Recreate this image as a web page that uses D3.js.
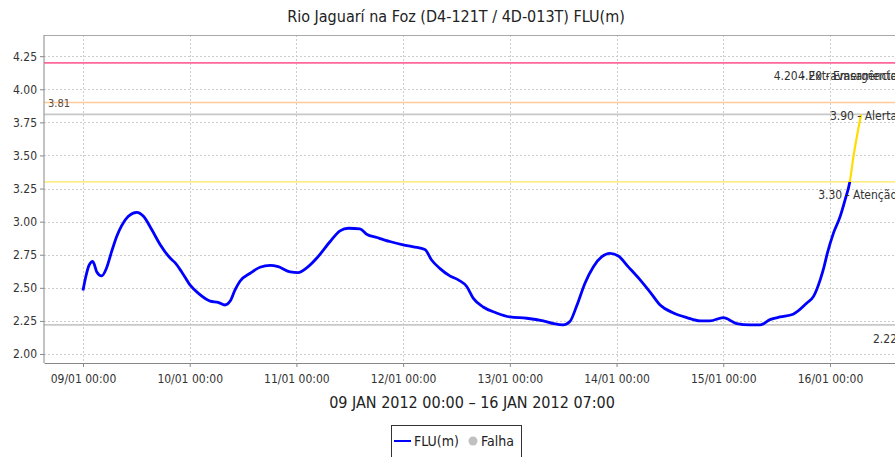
<!DOCTYPE html>
<html>
<head>
<meta charset="utf-8">
<script src="https://cdn.jsdelivr.net/npm/d3@7"></script>
<style>
  html, body { margin: 0; padding: 0; background: #fff; }
  svg { display: block; font-family: "DejaVu Sans Condensed", "DejaVu Sans", sans-serif; }
</style>
</head>
<body>
<svg id="chart" width="895" height="457"></svg>
<script>
// ---- data ----
const title = "Rio Jaguarí na Foz (D4-121T / 4D-013T) FLU(m)";
const subtitle = "09 JAN 2012 00:00 – 16 JAN 2012 07:00";
const startTime = new Date(2012, 0, 9, 0, 0);
// hours since 09 JAN 2012 00:00
const hours = [0, 0.6, 1.35, 2.2, 3.1, 4.2, 5.3, 6.45, 7.6, 8.7, 10.2, 12.1, 13.6, 15.45, 17.3, 19.6, 20.7, 22.2, 24.1, 25.9, 28.6, 30.4, 31.9, 33.1, 34.2, 35.3, 37.6, 39.8, 42.1, 43.9, 46.6, 48.4, 50.3, 52.6, 55.6, 57.8, 59.7, 62.3, 63.8, 66.1, 69.0, 72.0, 74.3, 76.9, 78.4, 80.3, 82.5, 84.4, 86.3, 87.8, 90.0, 93.0, 96.0, 99.8, 103.5, 105.8, 108.0, 109.5, 111.0, 112.9, 114.8, 116.7, 118.5, 120.4, 122.6, 125.3, 127.5, 129.8, 132.8, 135.8, 138.8, 141.0, 144.0, 147.0, 150.0, 152.3, 154.5, 156.8, 159.7, 162.8, 164.3, 165.8, 166.6, 167.4, 168.8, 170.3, 171.4, 172.4, 173.3, 174.2, 175.0];
const levels = [2.48, 2.58, 2.67, 2.70, 2.62, 2.59, 2.65, 2.775, 2.89, 2.97, 3.04, 3.07, 3.04, 2.94, 2.83, 2.725, 2.69, 2.62, 2.52, 2.46, 2.40, 2.39, 2.37, 2.40, 2.485, 2.55, 2.61, 2.655, 2.67, 2.66, 2.62, 2.615, 2.65, 2.725, 2.85, 2.93, 2.95, 2.945, 2.905, 2.88, 2.85, 2.825, 2.81, 2.79, 2.71, 2.645, 2.59, 2.56, 2.51, 2.42, 2.355, 2.31, 2.28, 2.27, 2.25, 2.23, 2.22, 2.245, 2.36, 2.535, 2.66, 2.735, 2.76, 2.74, 2.66, 2.56, 2.47, 2.37, 2.31, 2.275, 2.25, 2.25, 2.275, 2.23, 2.22, 2.22, 2.26, 2.28, 2.30, 2.385, 2.435, 2.56, 2.65, 2.76, 2.915, 3.04, 3.165, 3.29, 3.495, 3.67, 3.81];
const thresholdValues = [4.20, 4.20, 3.90, 3.30];
const thresholdLabels = ["4.20 - Extravasamento", "4.20 - Emergência", "3.90 - Alerta", "3.30 - Atenção"];
const thresholdColors = ["#ff6699", "#ff6699", "#ffcc99", "#ffee88"];
const maxValue = 3.81, minValue = 2.22;
const yTicks = [2.00, 2.25, 2.50, 2.75, 3.00, 3.25, 3.50, 3.75, 4.00, 4.25];
const dayTicks = [9, 10, 11, 12, 13, 14, 15, 16];
const legendItems = ["FLU(m)", "Falha"];

// ---- layout ----
const svg = d3.select("#chart");
const pLeft = 44, pRight = 900, pTop = 35, pBottom = 363;

const series = hours.map((h, i) => ({ t: new Date(startTime.getTime() + h * 3600e3), v: levels[i] }));

const x = d3.scaleTime()
  .domain([new Date(startTime.getTime() - 8.77 * 3600e3), new Date(startTime.getTime() + 183.75 * 3600e3)])
  .range([pLeft, pRight]);
const y = d3.scaleLinear().domain([1.932, 4.41]).range([pBottom, pTop]);

// grid
const grid = svg.append("g");
grid.selectAll(".gy").data(yTicks).join("line")
  .attr("x1", pLeft).attr("x2", pRight)
  .attr("y1", d => Math.round(y(d)) + 0.5).attr("y2", d => Math.round(y(d)) + 0.5)
  .attr("stroke", "#cccccc").attr("stroke-dasharray", "2,2");
const tickDates = dayTicks.map(d => new Date(2012, 0, d, 0, 0));
grid.selectAll(".gx").data(tickDates).join("line")
  .attr("x1", d => Math.round(x(d)) + 0.5).attr("x2", d => Math.round(x(d)) + 0.5)
  .attr("y1", pTop).attr("y2", pBottom)
  .attr("stroke", "#cccccc").attr("stroke-dasharray", "2,2");

// top border
svg.append("line").attr("x1", pLeft).attr("x2", pRight).attr("y1", pTop + 0.5).attr("y2", pTop + 0.5)
  .attr("stroke", "#aaaaaa");

// threshold lines
const thr = svg.append("g");
thresholdValues.forEach((v, i) => {
  thr.append("line").attr("x1", pLeft).attr("x2", pRight)
    .attr("y1", y(v)).attr("y2", y(v))
    .attr("stroke", thresholdColors[i]).attr("stroke-width", 1.6);
});
// max / min lines
[maxValue, minValue].forEach(v => {
  svg.append("line").attr("x1", pLeft).attr("x2", pRight)
    .attr("y1", y(v)).attr("y2", y(v))
    .attr("stroke", "#c8c8c8").attr("stroke-width", 1.6);
});

// series
const line = d3.line().x(d => x(d.t)).y(d => y(d.v)).curve(d3.curveMonotoneX);
svg.append("clipPath").attr("id", "below").append("rect")
  .attr("x", pLeft).attr("y", y(3.30)).attr("width", pRight - pLeft).attr("height", pBottom - y(3.30));
svg.append("clipPath").attr("id", "above").append("rect")
  .attr("x", pLeft).attr("y", pTop).attr("width", pRight - pLeft).attr("height", y(3.30) - pTop);
svg.append("path").datum(series).attr("d", line).attr("fill", "none")
  .attr("stroke", "#0000ff").attr("stroke-width", 2.8).attr("clip-path", "url(#below)");
svg.append("path").datum(series).attr("d", line).attr("fill", "none")
  .attr("stroke", "#ffdd00").attr("stroke-width", 2.2).attr("clip-path", "url(#above)");

// threshold labels
const labelX = 897;
thresholdValues.forEach((v, i) => {
  svg.append("text").attr("x", labelX).attr("y", y(v) + 17)
    .attr("text-anchor", "end").attr("font-size", 12).attr("fill", "#333")
    .text(thresholdLabels[i]);
});
svg.append("text").attr("x", labelX).attr("y", y(minValue) + 18)
  .attr("text-anchor", "end").attr("font-size", 12).attr("fill", "#333").text(minValue.toFixed(2));
svg.append("text").attr("x", 48).attr("y", y(maxValue) - 7.5)
  .attr("font-size", 11).attr("fill", "#5a4a3a").text(maxValue.toFixed(2));

// axes
const yAxis = d3.axisLeft(y).tickValues(yTicks).tickFormat(d3.format(".2f")).tickSize(4).tickSizeOuter(0);
const gy = svg.append("g").attr("transform", `translate(${pLeft},0)`).call(yAxis);
gy.select(".domain").attr("stroke", "#888").attr("d", `M0.5,${pTop}V${pBottom}`).attr("transform", "translate(-0.5,0)");
gy.selectAll(".tick line").attr("stroke", "#888");
gy.selectAll("text").attr("font-size", 12).attr("fill", "#333");
gy.attr("font-family", null);

const xAxis = d3.axisBottom(x).tickValues(tickDates).tickFormat(d3.timeFormat("%d/%m %H:%M")).tickSize(4).tickSizeOuter(0);
const gx = svg.append("g").attr("transform", `translate(0,${pBottom})`).call(xAxis);
gx.select(".domain").attr("stroke", "#888");
gx.selectAll(".tick line").attr("stroke", "#888");
gx.selectAll("text").attr("font-size", 12).attr("fill", "#333").attr("dy", "1.1em");
gx.attr("font-family", null);

// titles
svg.append("text").attr("x", 456).attr("y", 22).attr("text-anchor", "middle")
  .attr("font-size", 16).attr("fill", "#222").text(title);
svg.append("text").attr("x", (pLeft + pRight) / 2).attr("y", 408).attr("text-anchor", "middle")
  .attr("font-size", 16).attr("fill", "#222").text(subtitle);

// legend
const lg = svg.append("g");
lg.append("rect").attr("x", 391.5).attr("y", 425.5).attr("width", 130).attr("height", 40)
  .attr("fill", "#fff").attr("stroke", "#333");
lg.append("line").attr("x1", 394).attr("x2", 411).attr("y1", 441).attr("y2", 441)
  .attr("stroke", "#0000ff").attr("stroke-width", 2);
lg.append("text").attr("x", 414).attr("y", 446).attr("font-size", 14).attr("fill", "#222").text(legendItems[0]);
lg.append("circle").attr("cx", 473).attr("cy", 441).attr("r", 4.5).attr("fill", "#c0c0c0");
lg.append("text").attr("x", 481).attr("y", 446).attr("font-size", 14).attr("fill", "#222").text(legendItems[1]);
</script>
</body>
</html>
